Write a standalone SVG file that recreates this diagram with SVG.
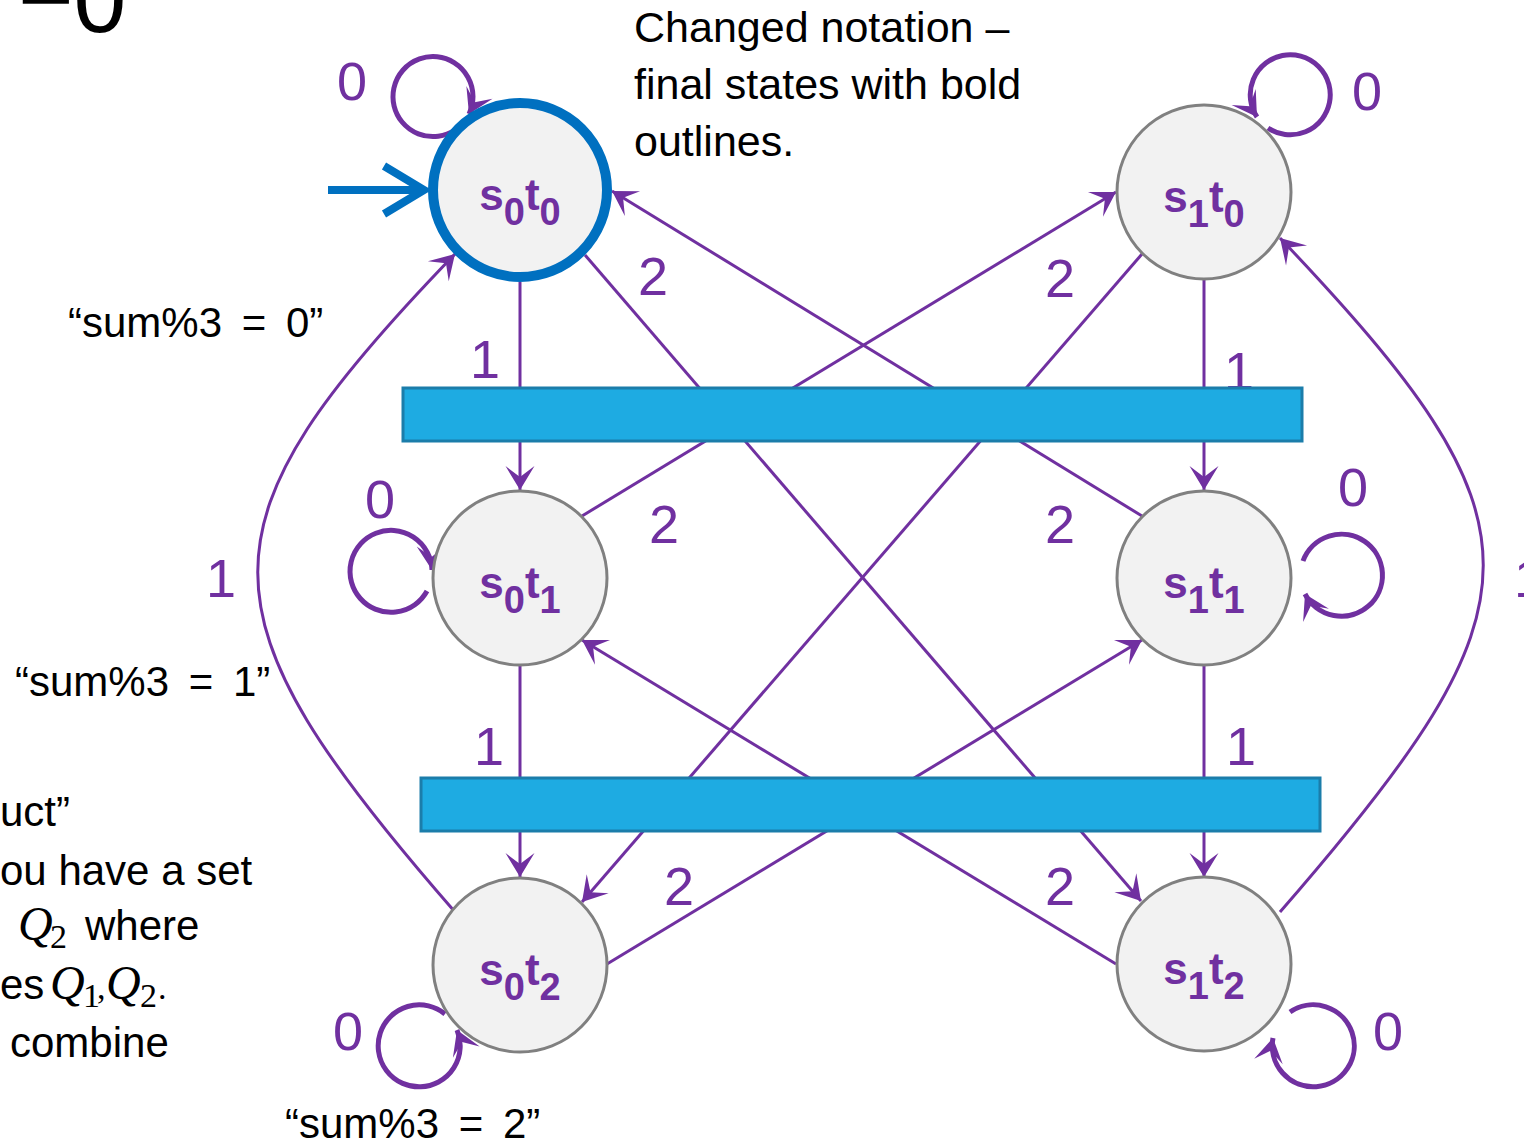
<svg xmlns="http://www.w3.org/2000/svg" width="1524" height="1145" viewBox="0 0 1524 1145">
<style>
.node{fill:#F2F2F2;stroke:#808080;stroke-width:3}
.final{fill:#F2F2F2;stroke:#0070C0;stroke-width:10}
.edge{fill:none;stroke:#7030A0;stroke-width:3}
.loop{fill:none;stroke:#7030A0;stroke-width:5}
.bar{fill:#1EABE2;stroke:#1B7DAA;stroke-width:3}
.lbl{font-family:"Liberation Sans",Arial,sans-serif;font-weight:bold;fill:#7030A0;font-size:44px}
.sub{font-size:38px}
.el{font-family:"Liberation Sans",Arial,sans-serif;fill:#7030A0;font-size:54px}
.txt{font-family:"Liberation Sans",Arial,sans-serif;fill:#000;font-size:42px}
.sum{font-size:42px;word-spacing:8px}
.math{font-family:"Liberation Serif","Times New Roman",serif;font-style:italic;font-size:48px}
.msub{font-family:"Liberation Serif","Times New Roman",serif;font-size:34px}
</style>
<defs>
<marker id="ah" viewBox="-26 -16 28 32" markerWidth="28" markerHeight="32" refX="0" refY="0" orient="auto" markerUnits="userSpaceOnUse" overflow="visible">
<path d="M0,0 L-24,-14.5 L-13,0 L-24,14.5 Z" fill="#7030A0"/>
</marker>
</defs>

<!-- background texts -->
<text class="txt" x="18" y="32" style="font-size:95px">−0</text>
<text class="txt" x="634" y="42" style="font-size:43px">Changed notation –</text>
<text class="txt" x="634" y="99" style="font-size:43px">final states with bold</text>
<text class="txt" x="634" y="156" style="font-size:43px">outlines.</text>
<text class="txt sum" x="68" y="337">“sum%3 = 0”</text>
<text class="txt sum" x="15" y="696">“sum%3 = 1”</text>
<text class="txt sum" x="285" y="1138">“sum%3 = 2”</text>
<text class="txt" x="0" y="826">uct”</text>
<text class="txt" x="0" y="885">ou have a set</text>
<text class="txt" y="940"><tspan class="math" x="18">Q</tspan><tspan class="msub" x="50" dy="8">2</tspan><tspan x="85" dy="-8">where</tspan></text>
<text class="txt" y="999"><tspan x="0">es</tspan><tspan class="math" x="50">Q</tspan><tspan class="msub" x="83" dy="8">1</tspan><tspan class="msub" x="97" dy="-8">,</tspan><tspan class="math" x="106">Q</tspan><tspan class="msub" x="140" dy="8">2</tspan><tspan class="msub" x="158" dy="-8">.</tspan></text>
<text class="txt" x="10" y="1057">combine</text>

<!-- edge labels -->
<g id="labels">
<text class="el" x="337" y="100">0</text>
<text class="el" x="1352" y="110">0</text>
<text class="el" x="365" y="518">0</text>
<text class="el" x="1338" y="506">0</text>
<text class="el" x="333" y="1050">0</text>
<text class="el" x="1373" y="1050">0</text>
<text class="el" x="470" y="378">1</text>
<text class="el" x="474" y="765">1</text>
<text class="el" x="1224" y="390">1</text>
<text class="el" x="1226" y="765">1</text>
<text class="el" x="206" y="597">1</text>
<text class="el" x="1514" y="597">1</text>
<text class="el" x="638" y="295">2</text>
<text class="el" x="1045" y="297">2</text>
<text class="el" x="649" y="543">2</text>
<text class="el" x="1045" y="543">2</text>
<text class="el" x="664" y="905">2</text>
<text class="el" x="1045" y="905">2</text>
</g>

<!-- connectors -->
<g id="connectors">
<path class="edge" d="M520 282 L520 490" marker-end="url(#ah)"/>
<path class="edge" d="M520 665 L520 877" marker-end="url(#ah)"/>
<path class="edge" d="M1204 280 L1204 490" marker-end="url(#ah)"/>
<path class="edge" d="M1204 665 L1204 877" marker-end="url(#ah)"/>
<path class="edge" d="M585 255 L1141 901" marker-end="url(#ah)"/>
<path class="edge" d="M582 516 L1116 192" marker-end="url(#ah)"/>
<path class="edge" d="M1142 516 L612 191" marker-end="url(#ah)"/>
<path class="edge" d="M1142 254 L582 902" marker-end="url(#ah)"/>
<path class="edge" d="M1116 964 L582 640" marker-end="url(#ah)"/>
<path class="edge" d="M607 964 L1142 640" marker-end="url(#ah)"/>
<path class="edge" d="M455 912 C192 611 192 526 455 254" marker-end="url(#ah)"/>
<path class="edge" d="M1280 912 C1551 601 1551 523 1280 238" marker-end="url(#ah)"/>
<path class="loop" d="M455 130 A40 40 0 1 1 469 114" marker-end="url(#ah)"/>
<path class="loop" d="M1268 128 A40 40 0 1 0 1257 117" marker-end="url(#ah)"/>
<path class="loop" d="M427 591 A41 41 0 1 1 432 570" marker-end="url(#ah)"/>
<path class="loop" d="M1303 561 A41 41 0 1 1 1305 594" marker-end="url(#ah)"/>
<path class="loop" d="M445 1014 A41 41 0 1 0 457 1030" marker-end="url(#ah)"/>
<path class="loop" d="M1290 1012 A41 41 0 1 1 1273 1038" marker-end="url(#ah)"/>
<path d="M328 190 L424 190 M384 166 L424 190 L384 214" fill="none" stroke="#0070C0" stroke-width="8"/>
</g>

<!-- bars -->
<g id="bar1"><rect class="bar" x="403" y="388" width="899" height="53"/></g>
<g id="bar2"><rect class="bar" x="421" y="778" width="899" height="53"/></g>

<!-- nodes -->
<g id="s0t0"><circle class="final" cx="520" cy="190" r="87"/>
<text class="lbl" x="520" y="210" text-anchor="middle">s<tspan class="sub" dy="15">0</tspan><tspan dy="-15">t</tspan><tspan class="sub" dy="15">0</tspan></text></g>
<g id="s1t0"><circle class="node" cx="1204" cy="192" r="87"/>
<text class="lbl" x="1204" y="212" text-anchor="middle">s<tspan class="sub" dy="15">1</tspan><tspan dy="-15">t</tspan><tspan class="sub" dy="15">0</tspan></text></g>
<g id="s0t1"><circle class="node" cx="520" cy="578" r="87"/>
<text class="lbl" x="520" y="598" text-anchor="middle">s<tspan class="sub" dy="15">0</tspan><tspan dy="-15">t</tspan><tspan class="sub" dy="15">1</tspan></text></g>
<g id="s1t1"><circle class="node" cx="1204" cy="578" r="87"/>
<text class="lbl" x="1204" y="598" text-anchor="middle">s<tspan class="sub" dy="15">1</tspan><tspan dy="-15">t</tspan><tspan class="sub" dy="15">1</tspan></text></g>
<g id="s0t2"><circle class="node" cx="520" cy="965" r="87"/>
<text class="lbl" x="520" y="985" text-anchor="middle">s<tspan class="sub" dy="15">0</tspan><tspan dy="-15">t</tspan><tspan class="sub" dy="15">2</tspan></text></g>
<g id="s1t2"><circle class="node" cx="1204" cy="964" r="87"/>
<text class="lbl" x="1204" y="984" text-anchor="middle">s<tspan class="sub" dy="15">1</tspan><tspan dy="-15">t</tspan><tspan class="sub" dy="15">2</tspan></text></g>
</svg>
